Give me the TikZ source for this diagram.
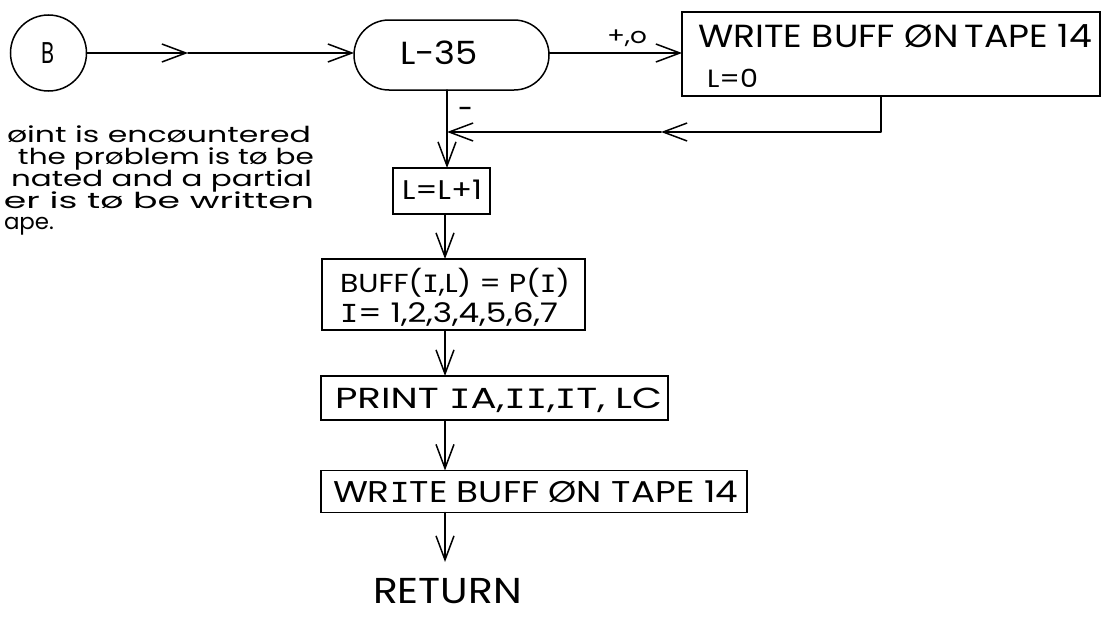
\documentclass[tikz,border=0pt]{standalone}
\usepackage{fontspec}
\setmainfont{Poppins}
\newfontfamily\barfont{DejaVu Sans Mono}
\usetikzlibrary{arrows.meta}
\newcommand\fw[2]{\resizebox{#1}{\height}{#2}}
\newcommand\fs[1]{\fontsize{#1}{#1}\selectfont}
\newcommand\BI{\scalebox{0.92}{\barfont I}}
\begin{document}
\begin{tikzpicture}[x=1pt,y=-1pt,
  every node/.style={inner sep=0pt, outer sep=0pt},
  ln/.style={line width=1.5pt, line cap=round, line join=round},
  arr/.style={ln, -{Straight Barb[length=24pt,width=18pt]}},
  box/.style={draw, line width=1.5pt, rectangle},
  txt/.style={anchor=base west, text=black}]
\useasboundingbox (0,0) rectangle (1104,621);
% shapes
\node[draw, circle, line width=1.5pt, minimum size=76pt] (B) at (48.5,53) {};
\node[box, rounded corners=35pt, minimum width=195pt, minimum height=70pt] (term) at (451.5,55) {};
\node[box, minimum width=418pt, minimum height=84pt] (wbox) at (891,54) {};
\node[box, minimum width=97pt, minimum height=46pt] (lbox) at (441.5,191) {};
\node[box, minimum width=263pt, minimum height=71pt] (bbox) at (453.5,294.5) {};
\node[box, minimum width=347pt, minimum height=44pt] (pbox) at (494.5,398) {};
\node[box, minimum width=426pt, minimum height=42pt] (wb2) at (534,491.5) {};
% texts
\node[txt] (Bt) at (41,63) {\fw{13pt}{\fs{30}B}};
\node[txt] (tt) at (400,64) {\fw{78pt}{\fs{32}L-35}};
\node[txt] (po) at (607,44) {\fw{40pt}{\fs{22}+,o}};
\node[txt] (w1) at (698,47) {\fw{394pt}{\fs{32}WRITE BUFF ØN\thinspace TAPE 14}};
\node[txt] (w2) at (707,88) {\fw{51pt}{\fs{25}L=0}};
\node[anchor=north] (mi) at (465,107) {\fw{14pt}{\fs{30}--}};
\node[txt] (lt) at (402,199) {\fw{80pt}{\fs{27}L=L+1}};
\node[txt] (b1) at (340,292) {\fw{230pt}{\fs{26}BUFF(\BI,L) = P(\BI)}};
\node[txt] (b2) at (340,322) {\fw{218pt}{\fs{27}\BI= 1,2,3,4,5,6,7}};
\node[txt] (pt) at (335,408) {\fw{327pt}{\fs{29}PRINT \BI A,\BI\BI,\BI T, LC}};
\node[txt] (wt) at (333,502) {\fw{405pt}{\fs{30}WR\BI TE BUFF ØN TAPE 14}};
\node[txt] (ret) at (373,603) {\fw{149pt}{\fs{36}RETURN}};
% annotation
\node[txt] (a1) at (7,142) {\fw{304pt}{\fs{22}øint is encøuntered}};
\node[txt] (a2) at (18,164) {\fw{296pt}{\fs{22}the prøblem is tø be}};
\node[txt] (a3) at (11,186) {\fw{301pt}{\fs{22}nated and a partial}};
\node[txt] (a4) at (4,208) {\fw{310pt}{\fs{22}er is tø be written}};
\node[txt] (a5) at (4,229) {\fw{50pt}{\fs{22}ape.}};
% coordinates
\coordinate (m1) at (188,53);
\coordinate (f0) at (881,132);
\coordinate (m2) at (661,132);
\coordinate (j) at (447,132);
\coordinate (ax) at (445,0);
\coordinate (r0) at (445,562);
% connectors
\draw[arr] (B.east |- m1) -- (m1);
\draw[arr] (m1) -- (m1 -| term.west);
\draw[arr] (term.east |- m1) -- (m1 -| wbox.west);
\draw[arr] (f0 |- wbox.south) -- (f0) -- (m2);
\draw[arr] (m2) -- (j);
\draw[arr] (term.south -| j) -- (lbox.north -| j);
\draw[arr] (lbox.south -| ax) -- (bbox.north -| ax);
\draw[arr] (bbox.south -| ax) -- (pbox.north -| ax);
\draw[arr] (pbox.south -| ax) -- (wb2.north -| ax);
\draw[arr] (wb2.south -| ax) -- (r0);
\end{tikzpicture}
\end{document}
